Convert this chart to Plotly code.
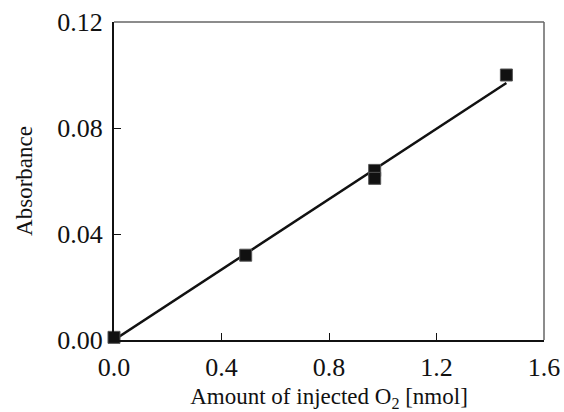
import plotly.graph_objects as go

# Data
amount_o2 = [0.0, 0.49, 0.97, 0.97, 1.46]
absorbance = [0.001, 0.032, 0.064, 0.061, 0.100]
fit_x = [0.0, 1.46]
fit_y = [0.0, 0.097]
x_ticks = [0.0, 0.4, 0.8, 1.2, 1.6]
x_tick_labels = ["0.0", "0.4", "0.8", "1.2", "1.6"]
y_ticks = [0.0, 0.04, 0.08, 0.12]
y_tick_labels = ["0.00", "0.04", "0.08", "0.12"]

font_family = "Liberation Serif"

fig = go.Figure()
fig.add_trace(go.Scatter(
    x=fit_x, y=fit_y, mode="lines",
    line=dict(color="#111111", width=2.5),
    showlegend=False, hoverinfo="skip", cliponaxis=False,
))
fig.add_trace(go.Scatter(
    x=amount_o2, y=absorbance, mode="markers",
    marker=dict(symbol="square", size=12, color="#111111",
                line=dict(color="#555555", width=1)),
    showlegend=False, cliponaxis=False,
))

fig.update_layout(
    width=564, height=412,
    margin=dict(l=114, r=20, t=22, b=72),
    paper_bgcolor="white", plot_bgcolor="white",
    font=dict(family=font_family, size=26, color="#111111"),
    xaxis=dict(
        range=[0, 1.6], tickvals=x_ticks, ticktext=x_tick_labels,
        showgrid=False, zeroline=False, automargin=False,
        showline=True, linecolor="#111111", linewidth=2,
        ticks="inside", ticklen=7, tickwidth=1, tickcolor="#111111",
        ticklabelstandoff=3,
        title=dict(text="Amount of injected O<sub>2</sub> [nmol]", standoff=18,
                   font=dict(size=23)),
    ),
    yaxis=dict(
        range=[0, 0.12], tickvals=y_ticks, ticktext=y_tick_labels,
        showgrid=False, zeroline=False, automargin=False,
        showline=True, linecolor="#111111", linewidth=2,
        ticks="inside", ticklen=7, tickwidth=1, tickcolor="#111111",
        ticklabelstandoff=4,
        title=dict(text="Absorbance", standoff=18, font=dict(size=23)),
    ),
    shapes=[
        dict(type="line", xref="paper", yref="paper", x0=0, x1=1, y0=1, y1=1,
             line=dict(color="#666666", width=1.5)),
        dict(type="line", xref="paper", yref="paper", x0=1, x1=1, y0=0, y1=1,
             line=dict(color="#666666", width=1.5)),
    ],
)

# remove the page's default body margin so the figure sits at the window origin
fig.write_html(
    "out.html",
    config={"displayModeBar": False},
    post_script="document.body.style.margin='0';document.body.style.overflow='hidden';",
)
